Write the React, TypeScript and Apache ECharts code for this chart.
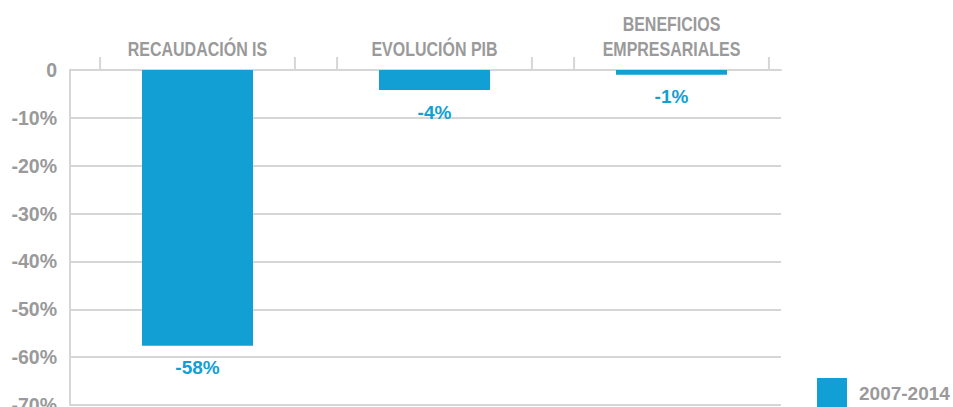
import React, { useEffect, useRef } from "react";
import * as echarts from "echarts";

const categories = ["RECAUDACIÓN IS", "EVOLUCIÓN PIB", "BENEFICIOS\nEMPRESARIALES"];
const seriesName = "2007-2014";
const values = [-57.6, -4.2, -1.0];
const yMin = -70;
const yMax = 0;
const yStep = 10;

const GRAY_TEXT = "#9a9a9a";
const GRID_GRAY = "#d6d6d6";
const BLUE = "#119fd4";
const SANS = "'Liberation Sans', Arial, sans-serif";

export default function App() {
  const ref = useRef<HTMLDivElement>(null);
  useEffect(() => {
    if (!ref.current) return;
    const chart = echarts.init(ref.current, undefined, { renderer: "svg" });
    const option: any = {
      animation: false,
      grid: [
        { left: 70, right: 172, top: 70, bottom: 2, outerBoundsMode: "none", containLabel: false },
        { left: 79, right: 163, top: 70, bottom: 2, outerBoundsMode: "none", containLabel: false },
      ],
      legend: {
        data: [seriesName],
        left: 817,
        top: 378,
        padding: 0,
        itemWidth: 30,
        itemHeight: 30,
        icon: "rect",
        textStyle: { fontFamily: SANS, fontWeight: "bold", fontSize: 19, color: GRAY_TEXT, padding: [0, 0, 0, 7] },
      },
      xAxis: [
        {
          gridIndex: 0,
          type: "category",
          position: "top",
          data: categories,
          axisLine: { show: true, lineStyle: { color: GRID_GRAY, width: 2 } },
          axisTick: { show: false },
          axisLabel: { show: false },
        },
        {
          gridIndex: 1,
          type: "category",
          position: "top",
          data: categories,
          axisLine: { show: false },
          axisTick: { show: false },
          axisLabel: { show: false },
        },
      ],
      yAxis: [
        {
          gridIndex: 0,
          type: "value",
          min: yMin,
          max: yMax,
          interval: yStep,
          axisLine: { show: true, lineStyle: { color: GRID_GRAY, width: 2 } },
          axisTick: { show: false },
          splitLine: { show: true, lineStyle: { color: GRID_GRAY, width: 2 } },
          axisLabel: {
            margin: 13,
            color: GRAY_TEXT,
            fontFamily: SANS,
            fontWeight: "bold",
            fontSize: 19.5,
            formatter: (v: number) => (v === 0 ? "0" : `${v}%`),
          },
        },
        {
          gridIndex: 1,
          type: "value",
          min: yMin,
          max: yMax,
          interval: yStep,
          show: false,
          splitLine: { show: false },
        },
      ],
      series: [
        {
          name: seriesName,
          type: "bar",
          xAxisIndex: 1,
          yAxisIndex: 1,
          data: values,
          barWidth: 111,
          itemStyle: { color: BLUE },
          label: {
            show: true,
            position: "bottom",
            distance: 12,
            color: BLUE,
            fontFamily: SANS,
            fontWeight: "bold",
            fontSize: 19,
            lineHeight: 20,
            formatter: (p: any) => `${Math.round(p.value)}%`,
          },
        },
      ],
    };
    chart.setOption(option);

    // category tick pairs and condensed category labels, placed from the axis scale
    const centers = categories.map((_, i) => chart.convertToPixel({ xAxisIndex: 1 }, i) as number);
    const band = centers.length > 1 ? centers[1] - centers[0] : 237;
    const half = band * 0.411;
    const y0 = chart.convertToPixel({ yAxisIndex: 1 }, 0) as number;
    const elements: any[] = [];
    centers.forEach((c, i) => {
      [c - half, c + half].forEach((x) => {
        elements.push({
          type: "line",
          shape: { x1: x, y1: y0 - 13, x2: x, y2: y0 },
          style: { stroke: GRID_GRAY, lineWidth: 2 },
          silent: true,
        });
      });
      elements.push({
        type: "text",
        x: c,
        y: y0 - 8.5,
        scaleX: 0.82,
        silent: true,
        style: {
          text: categories[i],
          x: 0,
          y: 0,
          align: "center",
          verticalAlign: "bottom",
          fill: GRAY_TEXT,
          fontFamily: SANS,
          fontWeight: "bold",
          fontSize: 19.5,
          lineHeight: 25,
        },
      });
    });
    chart.setOption({ graphic: elements });

    return () => chart.dispose();
  }, []);
  return (
    <div
      ref={ref}
      style={{ position: "fixed", left: 0, top: 0, width: 953, height: 407, background: "#fff" }}
    />
  );
}
